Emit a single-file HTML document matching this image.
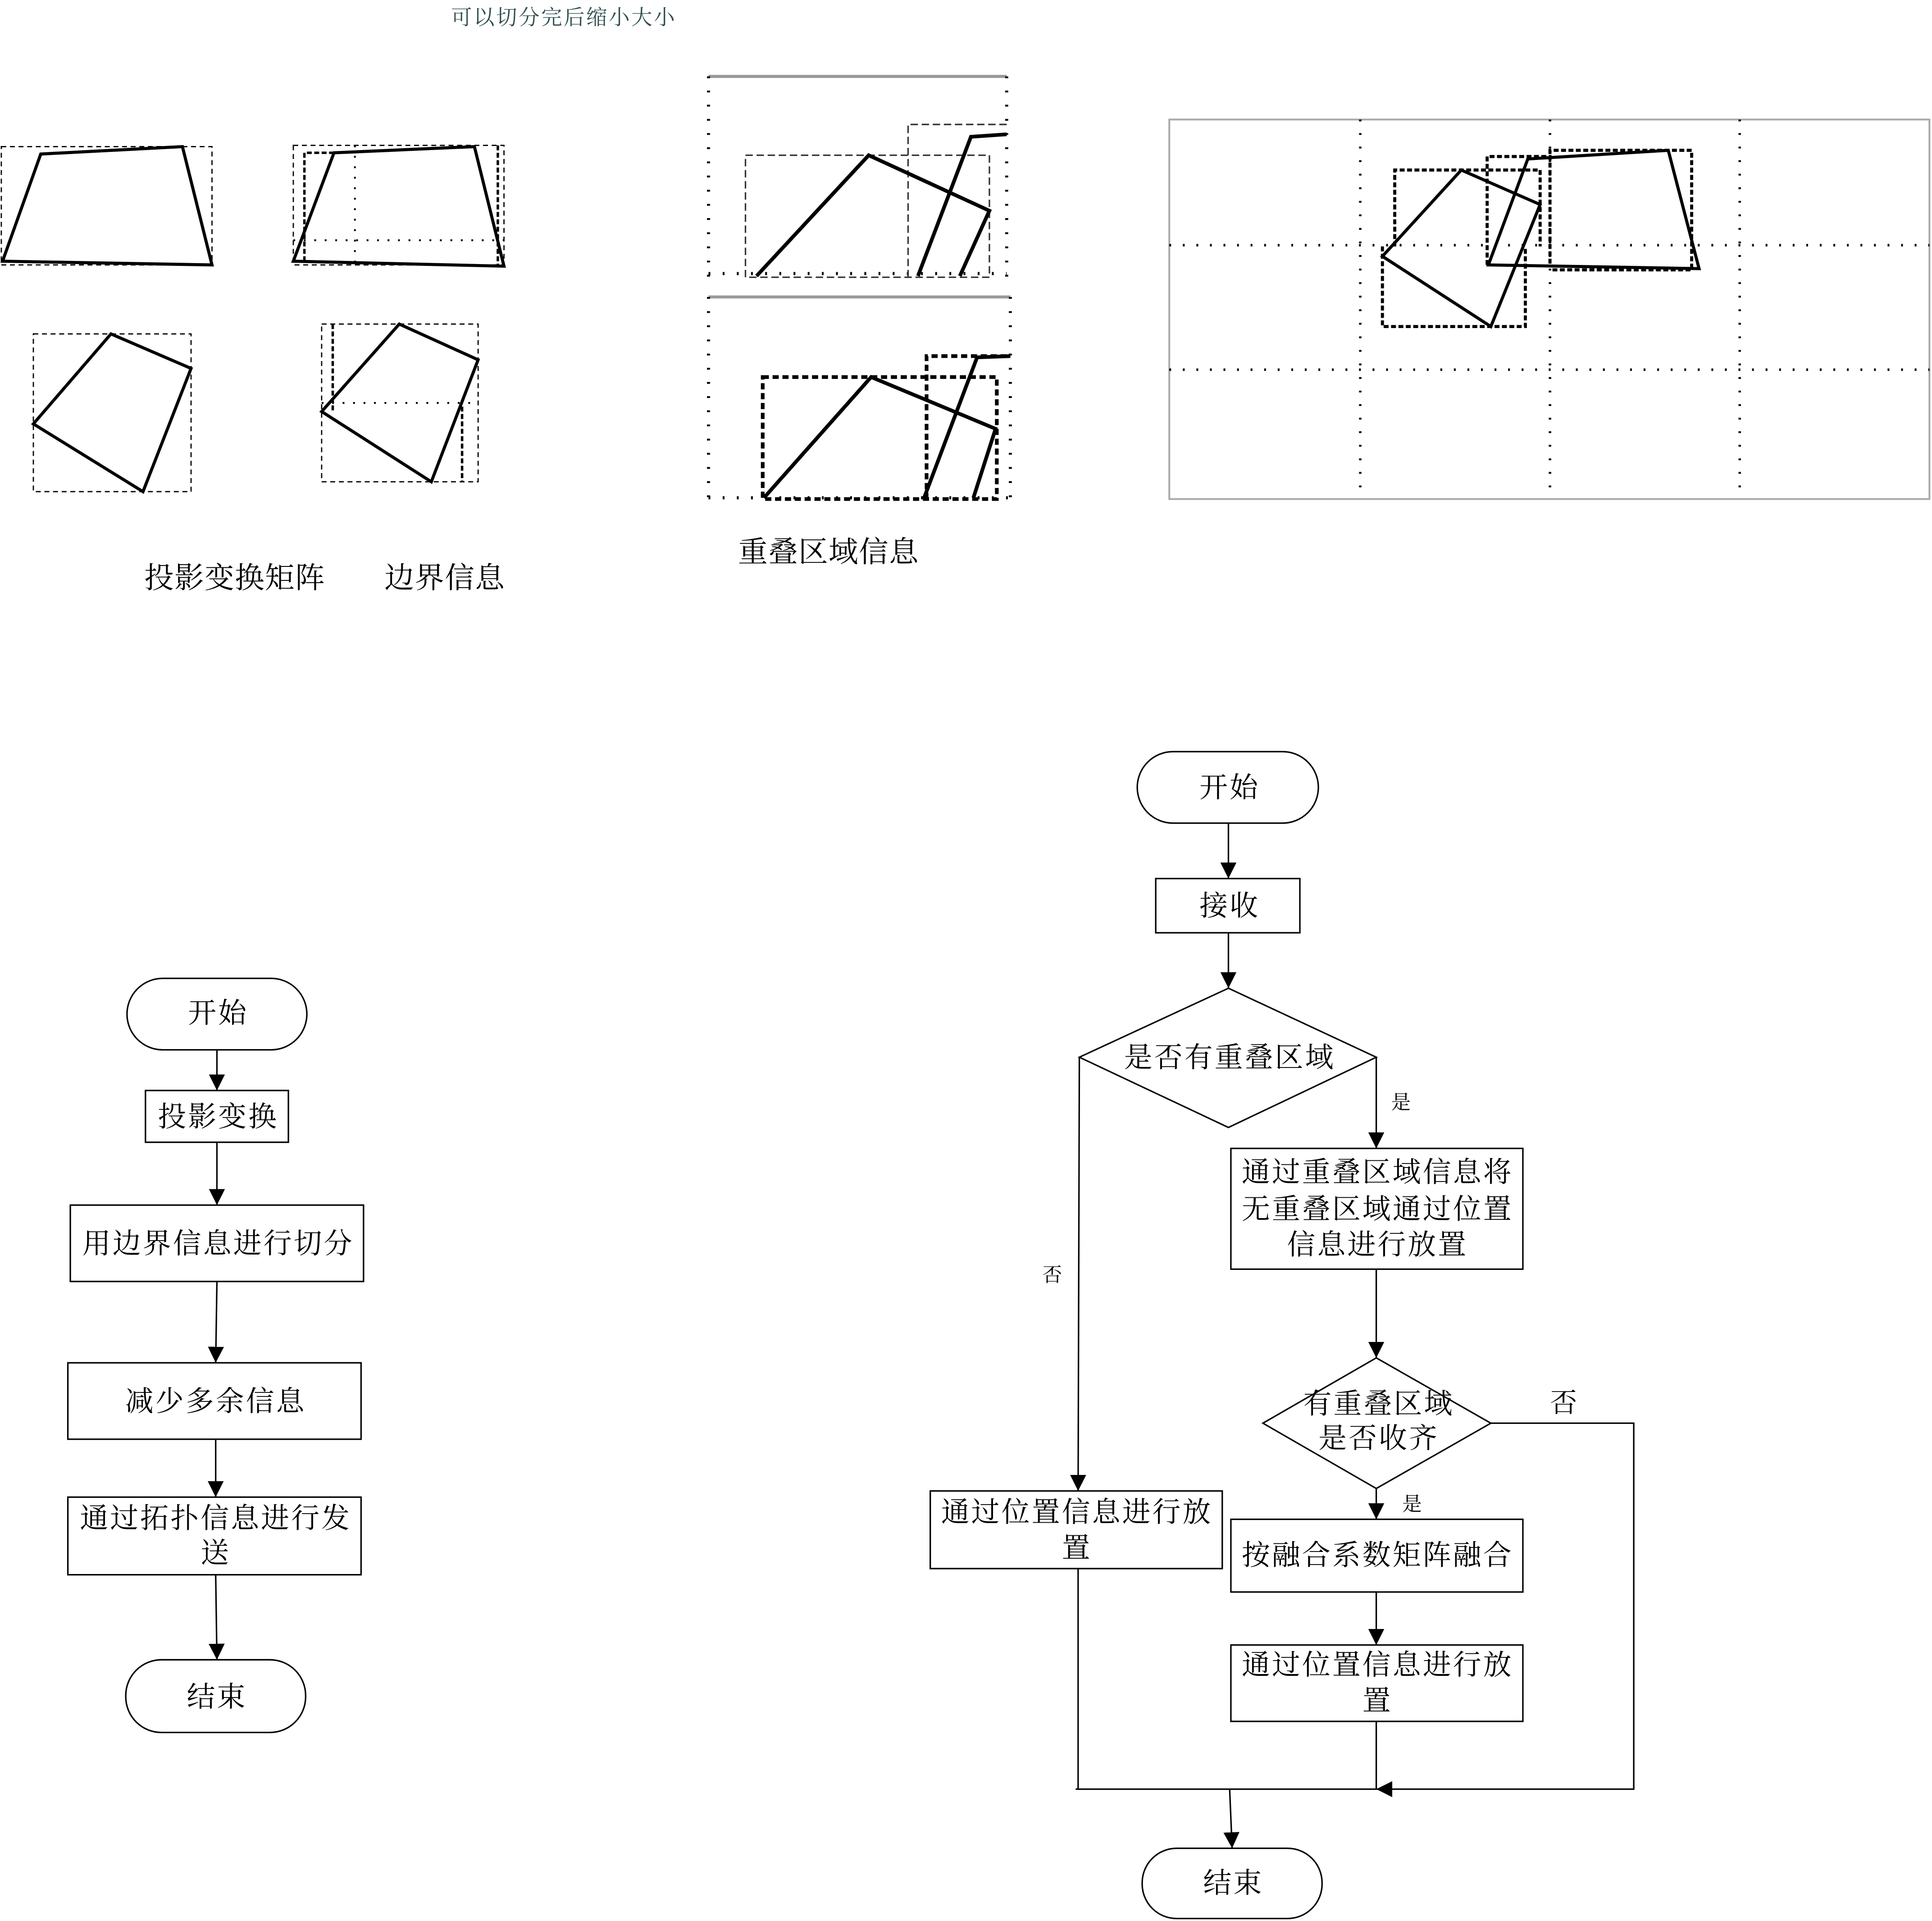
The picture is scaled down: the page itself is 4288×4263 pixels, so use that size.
<!DOCTYPE html>
<html><head><meta charset="utf-8"><style>
html,body{margin:0;padding:0;background:#fff}
svg{display:block}
text{font-family:"Liberation Serif","Noto Serif CJK SC",serif;fill:#000}
</style></head><body>
<svg width="4288" height="4263" viewBox="0 0 1568 1559" xmlns="http://www.w3.org/2000/svg">
<defs><marker id="a" viewBox="0 0 10 10" refX="10" refY="5" markerWidth="13" markerHeight="13" markerUnits="userSpaceOnUse" orient="auto"><path d="M0,0L10,5L0,10z" fill="#000"/></marker></defs>
<text x="366" y="20" font-size="17" letter-spacing="1.3" style="fill:#2f4f4f">可以切分完后缩小大小</text>

<g fill="none" stroke="#000">
<rect x="1" y="119" width="171" height="96" stroke-dasharray="4,3" stroke-width="1"/>
<polygon points="33,125 148,119 172,215 2,212" stroke-width="2.5"/>
<rect x="238" y="118" width="171" height="97" stroke-dasharray="4,3" stroke-width="1"/>
<path d="M247,212V124H271M404,118V215" stroke-width="2" stroke-dasharray="4,2"/>
<path d="M288,118V215M238,195H409" stroke-width="1.5" stroke-dasharray="1.5,7"/>
<polygon points="271,124 385,119 409,216 238,212" stroke-width="2.5"/>
<rect x="27" y="271" width="128" height="128" stroke-dasharray="4,3" stroke-width="1"/>
<polygon points="90,271 155,299 116,399 27,344" stroke-width="2.5"/>
<rect x="261" y="263" width="127" height="128" stroke-dasharray="4,3" stroke-width="1"/>
<path d="M270,263V334M375,330V391" stroke-width="2" stroke-dasharray="4,2"/>
<path d="M261,327H385" stroke-width="1.5" stroke-dasharray="1.5,7"/>
<polygon points="324,263 388,292 350,391 261,334" stroke-width="2.5"/>

<path d="M575,62H817" stroke="#999" stroke-width="2.5"/>
<path d="M575,62V225M817,62V225M575,222H817" stroke-width="2.5" stroke-dasharray="1.5,10"/>
<rect x="605" y="126" width="198" height="99" stroke-dasharray="6,3" stroke-width="1.2" stroke="#333"/>
<path d="M737,225V101H817" stroke-dasharray="6,3" stroke-width="1.2" stroke="#333"/>
<polyline points="614,224 705,126 803,171 779,224" stroke-width="3"/>
<polyline points="745,224 788,111 817,109" stroke-width="3"/>
<path d="M575,241H820" stroke="#999" stroke-width="2.5"/>
<path d="M575,241V405M820,241V405M575,404H820" stroke-width="2.5" stroke-dasharray="1.5,10"/>
<rect x="619" y="306" width="190" height="99" stroke-dasharray="5,3" stroke-width="3"/>
<path d="M752,405V289H820" stroke-dasharray="5,3" stroke-width="3"/>
<polyline points="620,404 707,306 808,348 790,404" stroke-width="3"/>
<polyline points="750,404 793,290 820,289" stroke-width="3"/>

<rect x="949" y="97" width="617" height="308" stroke="#aaa" stroke-width="1.5"/>
<path d="M1104,97V405M1258,97V405M1412,97V405M949,199H1566M949,300H1566" stroke-width="2" stroke-dasharray="1.5,9.5"/>
<path d="M1132,200V138H1250V200M1122,200V265H1238V200" stroke-width="2.5" stroke-dasharray="4,2"/>
<path d="M1207,215V127H1258V215M1258,125V122H1373V219H1258" stroke-width="2.5" stroke-dasharray="4,2"/>
<polygon points="1186,138 1250,166 1210,265 1122,208" stroke-width="2.5"/>
<polygon points="1240,129 1354,122 1379,218 1208,215" stroke-width="2.5"/>
</g>
<text x="117" y="477" font-size="24" letter-spacing="0.5">投影变换矩阵</text>
<text x="312" y="477" font-size="24" letter-spacing="0.5">边界信息</text>
<text x="599" y="456" font-size="24" letter-spacing="0.5">重叠区域信息</text>

<g fill="none" stroke="#000" stroke-width="1.2">
<rect x="103" y="794" width="146" height="58" rx="29"/>
<rect x="118" y="885" width="116" height="42"/>
<rect x="57" y="978" width="238" height="62"/>
<rect x="55" y="1106" width="238" height="62"/>
<rect x="55" y="1215" width="238" height="63"/>
<rect x="102" y="1347" width="146" height="59" rx="29"/>
<path d="M176,852V885" marker-end="url(#a)"/>
<path d="M176,927V978" marker-end="url(#a)"/>
<path d="M176,1040L175,1106" marker-end="url(#a)"/>
<path d="M175,1168V1215" marker-end="url(#a)"/>
<path d="M175,1278L176,1347" marker-end="url(#a)"/>
</g>
<g font-size="23" text-anchor="middle" letter-spacing="1.5">
<text x="177" y="830">开始</text>
<text x="177" y="914">投影变换</text>
<text x="177" y="1017">用边界信息进行切分</text>
<text x="175" y="1145">减少多余信息</text>
<text x="175" y="1240">通过拓扑信息进行发</text>
<text x="175" y="1268">送</text>
<text x="176" y="1385">结束</text>
</g>

<g fill="none" stroke="#000" stroke-width="1.2">
<rect x="923" y="610" width="147" height="58" rx="29"/>
<rect x="938" y="713" width="117" height="44"/>
<polygon points="997,802 1117,858 997,915 876,858"/>
<rect x="999" y="932" width="237" height="98"/>
<polygon points="1117,1102 1210,1155 1117,1208 1025,1155"/>
<rect x="755" y="1210" width="237" height="63"/>
<rect x="999" y="1233" width="237" height="59"/>
<rect x="999" y="1335" width="237" height="62"/>
<rect x="927" y="1500" width="146" height="57" rx="28"/>
<path d="M997,668V713" marker-end="url(#a)"/>
<path d="M997,757V802" marker-end="url(#a)"/>
<path d="M1117,858V932" marker-end="url(#a)"/>
<path d="M876,858L875,1210" marker-end="url(#a)"/>
<path d="M1117,1030V1102" marker-end="url(#a)"/>
<path d="M1117,1208V1233" marker-end="url(#a)"/>
<path d="M1117,1292V1335" marker-end="url(#a)"/>
<path d="M1117,1397V1452"/>
<path d="M1210,1155H1326V1452H1117" marker-end="url(#a)"/>
<path d="M875,1273V1452M873,1452H1117"/>
<path d="M998,1452L1000,1500" marker-end="url(#a)"/>
</g>
<g font-size="23" text-anchor="middle" letter-spacing="1.5">
<text x="998" y="647">开始</text>
<text x="998" y="743">接收</text>
<text x="998" y="866">是否有重叠区域</text>
<text x="1118" y="959">通过重叠区域信息将</text>
<text x="1118" y="989">无重叠区域通过位置</text>
<text x="1118" y="1018">信息进行放置</text>
<text x="1119" y="1147">有重叠区域</text>
<text x="1119" y="1175">是否收齐</text>
<text x="874" y="1235">通过位置信息进行放</text>
<text x="874" y="1264">置</text>
<text x="1118" y="1270">按融合系数矩阵融合</text>
<text x="1118" y="1359">通过位置信息进行放</text>
<text x="1118" y="1388">置</text>
<text x="1001" y="1536">结束</text>
</g>
<g font-size="16" text-anchor="middle">
<text x="1269" y="1146" font-size="22">否</text>
<text x="1137" y="900">是</text>
<text x="854" y="1040">否</text>
<text x="1146" y="1226">是</text>
</g>
</svg>
</body></html>
